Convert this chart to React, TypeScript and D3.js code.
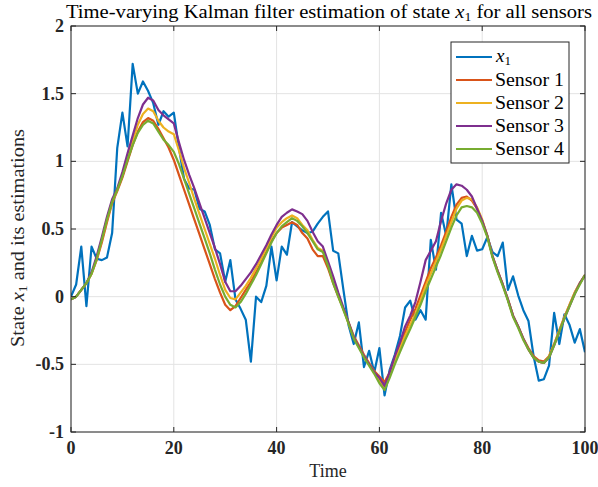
import React from 'react';
import * as d3 from 'd3';

const timeSteps: number[] = d3.range(0, 101);

const stateX1: number[] = [
  0.0, 0.09, 0.37, -0.07, 0.37, 0.28, 0.27, 0.29, 0.47, 1.10,
  1.36, 1.11, 1.72, 1.50, 1.59, 1.52, 1.43, 1.27, 1.37, 1.33,
  1.36, 1.10, 0.87, 0.80, 0.79, 0.65, 0.63, 0.53, 0.35, 0.32,
  0.11, 0.27, -0.02, -0.09, -0.17, -0.48, 0.00, -0.04, 0.08, 0.37,
  0.12, 0.37, 0.31, 0.55, 0.52, 0.49, 0.47, 0.48, 0.54, 0.59,
  0.63, 0.34, 0.32, 0.05, -0.21, -0.35, -0.19, -0.52, -0.40, -0.56,
  -0.38, -0.73, -0.54, -0.43, -0.29, -0.08, -0.03, -0.17, -0.10, -0.17,
  0.42, 0.20, 0.62, 0.45, 0.83, 0.57, 0.54, 0.30, 0.45, 0.34,
  0.35, 0.44, 0.33, 0.30, 0.40, 0.05, 0.15, 0.01, -0.10, -0.18,
  -0.44, -0.62, -0.61, -0.51, -0.12, -0.35, -0.13, -0.21, -0.34, -0.24,
  -0.41,
];

const sensor1: number[] = [
  -0.02, 0.0, 0.05, 0.10, 0.17, 0.27, 0.40, 0.55, 0.69, 0.78,
  0.88, 1.0, 1.12, 1.22, 1.29, 1.32, 1.30, 1.24, 1.17, 1.10,
  1.01, 0.90, 0.79, 0.68, 0.57, 0.46, 0.35, 0.24, 0.13, 0.03,
  -0.06, -0.10, -0.07, -0.01, 0.05, 0.11, 0.18, 0.25, 0.33, 0.41,
  0.47, 0.51, 0.53, 0.55, 0.53, 0.47, 0.43, 0.35, 0.30, 0.30,
  0.21, 0.10, 0.0, -0.09, -0.19, -0.29, -0.36, -0.43, -0.49, -0.55,
  -0.59, -0.63, -0.56, -0.45, -0.36, -0.26, -0.17, -0.09, 0.01, 0.11,
  0.21, 0.29, 0.38, 0.48, 0.59, 0.68, 0.73, 0.74, 0.71, 0.65,
  0.56, 0.45, 0.30, 0.19, 0.09, -0.02, -0.14, -0.22, -0.31, -0.38,
  -0.44, -0.47, -0.48, -0.44, -0.35, -0.25, -0.15, -0.06, 0.03, 0.10,
  0.16,
];

const sensor2: number[] = [
  -0.02, 0.0, 0.05, 0.10, 0.17, 0.28, 0.42, 0.57, 0.70, 0.79,
  0.90, 1.03, 1.15, 1.27, 1.35, 1.39, 1.37, 1.30, 1.25, 1.22,
  1.20, 1.08, 0.95, 0.84, 0.72, 0.61, 0.50, 0.39, 0.28, 0.16,
  0.05, -0.01, -0.02, 0.03, 0.08, 0.14, 0.21, 0.28, 0.36, 0.44,
  0.51, 0.55, 0.58, 0.60, 0.58, 0.53, 0.49, 0.42, 0.36, 0.34,
  0.24, 0.12, 0.01, -0.09, -0.20, -0.30, -0.37, -0.44, -0.50, -0.56,
  -0.62, -0.67, -0.58, -0.47, -0.38, -0.29, -0.21, -0.13, -0.03, 0.08,
  0.17, 0.26, 0.35, 0.45, 0.55, 0.65, 0.71, 0.73, 0.72, 0.66,
  0.57, 0.45, 0.30, 0.19, 0.09, -0.02, -0.14, -0.22, -0.31, -0.39,
  -0.45, -0.48, -0.49, -0.44, -0.35, -0.25, -0.15, -0.06, 0.03, 0.10,
  0.16,
];

const sensor3: number[] = [
  -0.02, 0.0, 0.05, 0.10, 0.18, 0.30, 0.44, 0.59, 0.72, 0.80,
  0.92, 1.06, 1.19, 1.32, 1.42, 1.47, 1.45, 1.38, 1.34, 1.31,
  1.28, 1.14, 1.01, 0.90, 0.80, 0.69, 0.58, 0.47, 0.36, 0.24,
  0.11, 0.04, 0.04, 0.08, 0.13, 0.18, 0.24, 0.31, 0.38, 0.46,
  0.53, 0.59, 0.62, 0.645, 0.63, 0.61, 0.56, 0.48, 0.41, 0.37,
  0.26, 0.15, 0.03, -0.08, -0.19, -0.30, -0.37, -0.44, -0.50, -0.56,
  -0.60, -0.66, -0.56, -0.44, -0.34, -0.22, -0.14, -0.04, 0.11, 0.27,
  0.34, 0.41, 0.56, 0.69, 0.79, 0.83, 0.82, 0.79, 0.74, 0.65,
  0.56, 0.45, 0.30, 0.19, 0.09, -0.02, -0.14, -0.22, -0.31, -0.39,
  -0.45, -0.48, -0.49, -0.45, -0.36, -0.26, -0.16, -0.07, 0.02, 0.10,
  0.16,
];

const sensor4: number[] = [
  -0.02, 0.0, 0.05, 0.10, 0.17, 0.28, 0.42, 0.57, 0.70, 0.79,
  0.89, 1.01, 1.12, 1.21, 1.27, 1.30, 1.28, 1.22, 1.16, 1.12,
  1.07, 0.98, 0.87, 0.76, 0.65, 0.54, 0.43, 0.32, 0.20, 0.09,
  0.0, -0.06, -0.08, -0.04, 0.02, 0.09, 0.16, 0.24, 0.32, 0.40,
  0.47, 0.52, 0.55, 0.58, 0.56, 0.52, 0.47, 0.41, 0.35, 0.33,
  0.23, 0.10, 0.0, -0.10, -0.20, -0.31, -0.38, -0.45, -0.51, -0.57,
  -0.64, -0.69, -0.60, -0.50, -0.41, -0.32, -0.24, -0.15, -0.06, 0.04,
  0.13, 0.22, 0.31, 0.41, 0.51, 0.60, 0.66, 0.67, 0.66, 0.62,
  0.54, 0.44, 0.29, 0.18, 0.08, -0.03, -0.15, -0.23, -0.32, -0.39,
  -0.45, -0.48, -0.49, -0.45, -0.36, -0.26, -0.16, -0.07, 0.02, 0.09,
  0.16,
];

const xTicks: number[] = [0, 20, 40, 60, 80, 100];
const yTicks: number[] = [-1, -0.5, 0, 0.5, 1, 1.5, 2];
const yTickLabels: string[] = ['-1', '-0.5', '0', '0.5', '1', '1.5', '2'];

const seriesNames: string[] = ['x1', 'Sensor 1', 'Sensor 2', 'Sensor 3', 'Sensor 4'];
const seriesColors: string[] = ['#0072BD', '#D95319', '#EDB120', '#7E2F8E', '#77AC30'];
const seriesData: number[][] = [stateX1, sensor1, sensor2, sensor3, sensor4];

const W = 598;
const H = 487;
const L = 71;
const R = 585;
const T = 26;
const B = 432;
const serif = 'Liberation Serif, Times New Roman, serif';
const fs = { fontFamily: serif };

export default function App() {
  const x = d3.scaleLinear().domain([0, 100]).range([L, R]);
  const y = d3.scaleLinear().domain([-1, 2]).range([B, T]);
  const line = d3
    .line<number>()
    .x((_, i) => x(timeSteps[i]))
    .y((d) => y(d));

  const tickLen = 5;
  const legX = 451;
  const legY = 42;
  const legW = 118;
  const legH = 121;
  const rowH = 23;

  return (
    <svg width={W} height={H} style={{ position: 'absolute', left: 0, top: 0, background: '#fff' }}>
      <rect x={0} y={0} width={W} height={H} fill="#fff" />
      {xTicks.map((t) => (
        <line key={'gx' + t} x1={x(t)} x2={x(t)} y1={T} y2={B} stroke="#e3e3e3" strokeWidth={1} />
      ))}
      {yTicks.map((t) => (
        <line key={'gy' + t} x1={L} x2={R} y1={y(t)} y2={y(t)} stroke="#e3e3e3" strokeWidth={1} />
      ))}
      <defs>
        <clipPath id="clip">
          <rect x={L} y={T} width={R - L} height={B - T} />
        </clipPath>
      </defs>
      <g clipPath="url(#clip)">
        {seriesData.map((d, i) => (
          <path
            key={seriesNames[i]}
            d={line(d) || ''}
            fill="none"
            stroke={seriesColors[i]}
            strokeWidth={2.2}
            strokeLinejoin="round"
          />
        ))}
      </g>
      <rect x={L} y={T} width={R - L} height={B - T} fill="none" stroke="#262626" strokeWidth={1} />
      {xTicks.map((t) => (
        <g key={'tx' + t}>
          <line x1={x(t)} x2={x(t)} y1={B} y2={B - tickLen} stroke="#262626" />
          <line x1={x(t)} x2={x(t)} y1={T} y2={T + tickLen} stroke="#262626" />
          <text x={x(t)} y={B + 22} textAnchor="middle" fontSize={18} fontWeight="bold" fill="#262626" style={fs}>
            {t}
          </text>
        </g>
      ))}
      {yTicks.map((t, i) => (
        <g key={'ty' + t}>
          <line x1={L} x2={L + tickLen} y1={y(t)} y2={y(t)} stroke="#262626" />
          <line x1={R} x2={R - tickLen} y1={y(t)} y2={y(t)} stroke="#262626" />
          <text x={L - 7} y={y(t) + 6} textAnchor="end" fontSize={18} fontWeight="bold" fill="#262626" style={fs}>
            {yTickLabels[i]}
          </text>
        </g>
      ))}
      <text x={(L + R) / 2 + 1} y={18} textAnchor="middle" fontSize={18} fill="#000" style={fs} textLength={526} lengthAdjust="spacingAndGlyphs">
        Time-varying Kalman filter estimation of state <tspan fontStyle="italic">x</tspan>
        <tspan fontSize={12} dy={3}>1</tspan>
        <tspan dy={-3}> for all sensors</tspan>
      </text>
      <text x={(L + R) / 2} y={477} textAnchor="middle" fontSize={18} fill="#262626" style={fs}>
        Time
      </text>
      <text
        transform={`translate(24, ${(T + B) / 2 + 9}) rotate(-90)`}
        textAnchor="middle"
        fontSize={18}
        fill="#262626"
        style={fs}
        textLength={218}
        lengthAdjust="spacingAndGlyphs"
      >
        State <tspan fontStyle="italic">x</tspan>
        <tspan fontSize={12} dy={3}>1</tspan>
        <tspan dy={-3}> and its estimations</tspan>
      </text>
      <rect x={legX} y={legY} width={legW} height={legH} fill="#fff" stroke="#262626" strokeWidth={1} />
      {seriesNames.map((n, i) => {
        const cy = legY + 15 + i * rowH;
        return (
          <g key={'leg' + n}>
            <line x1={legX + 5} x2={legX + 41} y1={cy} y2={cy} stroke={seriesColors[i]} strokeWidth={2.2} />
            {i === 0 ? (
              <text x={legX + 45} y={cy + 5} fontSize={19} fill="#000" style={fs}>
                <tspan fontStyle="italic">x</tspan>
                <tspan fontSize={13} dy={3}>1</tspan>
              </text>
            ) : (
              <text x={legX + 44} y={cy + 6} fontSize={19} fill="#000" style={fs} textLength={69} lengthAdjust="spacingAndGlyphs">
                {n}
              </text>
            )}
          </g>
        );
      })}
    </svg>
  );
}
